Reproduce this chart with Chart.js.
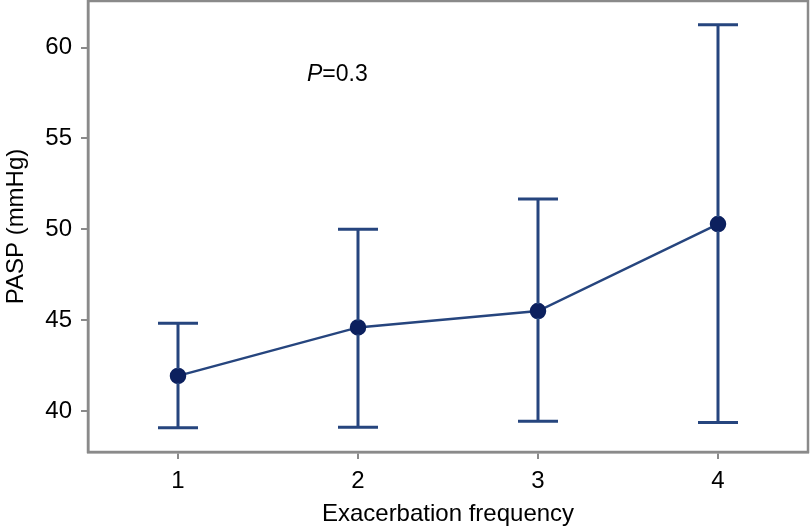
<!DOCTYPE html>
<html>
<head>
<meta charset="utf-8">
<script src="https://cdn.jsdelivr.net/npm/chart.js@4"></script>
<style>
html,body{margin:0;padding:0;background:#fff;}
#wrap{width:810px;height:532px;}
</style>
</head>
<body>
<div id="wrap"><canvas id="c" width="810" height="532"></canvas></div>
<script>
const categories = ['1', '2', '3', '4'];
const means = [41.93, 44.6, 45.5, 50.29];
const upper = [44.83, 50.0, 51.67, 61.26];
const lower = [39.08, 39.1, 39.43, 39.36];
const yTicks = [40, 45, 50, 55, 60];
const annotationText = '=0.3';

const axisGray = '#8a8a8a';
const lineColor = '#26457e';
const pointColor = '#0c205e';
const FONT = '"Liberation Sans", Arial, sans-serif';

const errorBars = {
  id: 'errorBars',
  afterDatasetsDraw(chart) {
    const ctx = chart.ctx;
    const xs = chart.scales.x, ys = chart.scales.y;
    ctx.save();
    ctx.strokeStyle = lineColor;
    ctx.lineWidth = 3;
    for (let i = 0; i < categories.length; i++) {
      const x = xs.getPixelForValue(i);
      const yt = ys.getPixelForValue(upper[i]);
      const yb = ys.getPixelForValue(lower[i]);
      ctx.beginPath();
      ctx.moveTo(x, yt); ctx.lineTo(x, yb);
      ctx.moveTo(x - 20, yt); ctx.lineTo(x + 20, yt);
      ctx.moveTo(x - 20, yb); ctx.lineTo(x + 20, yb);
      ctx.stroke();
    }
    const meta = chart.getDatasetMeta(0);
    ctx.fillStyle = pointColor;
    meta.data.forEach(p => {
      ctx.beginPath();
      ctx.arc(p.x, p.y, 7, 0, Math.PI * 2);
      ctx.fill();
    });
    const a = chart.chartArea;
    ctx.strokeStyle = axisGray;
    ctx.lineWidth = 2.5;
    ctx.strokeRect(a.left, a.top, a.right - a.left, a.bottom - a.top);
    ctx.fillStyle = '#000';
    ctx.textBaseline = 'middle';
    ctx.font = 'italic 23px ' + FONT;
    const px = xs.getPixelForValue(0) + 129;
    const py = ys.getPixelForValue(60) + 27;
    ctx.fillText('P', px, py);
    const w = ctx.measureText('P').width;
    ctx.font = '23px ' + FONT;
    ctx.fillText(annotationText, px + w, py);
    ctx.restore();
  }
};

new Chart(document.getElementById('c'), {
  type: 'line',
  data: {
    labels: categories,
    datasets: [{
      data: means,
      borderColor: lineColor,
      borderWidth: 2.5,
      tension: 0,
      pointRadius: 7,
      pointBackgroundColor: pointColor,
      pointBorderColor: pointColor,
      fill: false,
      clip: false
    }]
  },
  options: {
    responsive: false,
    animation: false,
    devicePixelRatio: 1,
    layout: { autoPadding: false, padding: { left: 0, right: 2, top: 1, bottom: 0 } },
    plugins: { legend: { display: false }, tooltip: { enabled: false } },
    scales: {
      x: {
        type: 'category',
        offset: true,
        grid: { drawOnChartArea: false, drawTicks: true, tickLength: 7, color: axisGray, lineWidth: 2, offset: false },
        border: { display: true, color: axisGray, width: 2.5 },
        ticks: { color: '#000', padding: 8, font: { size: 24, family: FONT } },
        title: { display: true, text: 'Exacerbation frequency', color: '#000', padding: { top: 4, bottom: 3 }, font: { size: 24, family: FONT } },
        afterFit(s) { s.height = 80; s.paddingLeft = 0; s.paddingRight = 0; }
      },
      y: {
        min: 37.74,
        max: 62.57,
        afterBuildTicks(s) { s.ticks = yTicks.map(v => ({ value: v })); },
        grid: { drawOnChartArea: false, drawTicks: true, tickLength: 7, color: axisGray, lineWidth: 2 },
        border: { display: true, color: axisGray, width: 2.5 },
        ticks: { color: '#000', padding: 9, font: { size: 24, family: FONT } },
        title: { display: true, text: 'PASP (mmHg)', color: '#000', padding: { top: 2, bottom: 4 }, font: { size: 24, family: FONT } },
        afterFit(s) { s.width = 88; s.paddingTop = 0; s.paddingBottom = 0; }
      }
    }
  },
  plugins: [errorBars]
});
</script>
</body>
</html>
